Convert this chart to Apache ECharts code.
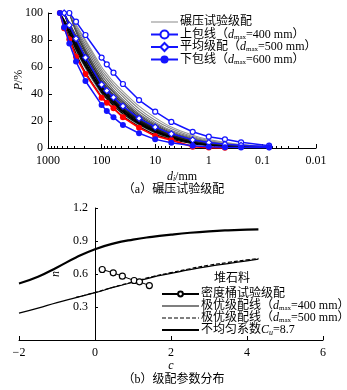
<!DOCTYPE html>
<html>
<head>
<meta charset="utf-8">
<script src="https://cdn.jsdelivr.net/npm/echarts@6/dist/echarts.min.js"></script>
<style>
  html, body { margin: 0; padding: 0; background: #fff; }
  #chart { width: 347px; height: 390px; }
</style>
</head>
<body>
<div id="chart"></div>
<script>
// ---------- (a) rolled-compaction gradings ----------
// sieve sizes (mm) shared by every grading curve
const sieveSizes = [600, 500, 400, 300, 200, 100, 80, 60, 40, 20, 10, 5, 2, 1, 0.5, 0.25, 0.075];

// percent passing of each rolled test (null above the test's dmax)
const rolledTests = [
  [100, 92, 84, 72, 59, 40, 36, 31, 25, 17, 11, 7, 3.5, 2, 1.2, 0.7, 0.2],
  [100, 93, 85, 74, 61, 42, 37.5, 32.5, 26.5, 18, 12, 7.8, 4, 2.4, 1.5, 0.9, 0.3],
  [100, 94, 86.5, 76, 63, 44, 39.5, 34.5, 28, 19.5, 13, 8.5, 4.5, 2.8, 1.8, 1.1, 0.4],
  [null, 100, 90, 79, 66, 46, 41.5, 36, 29.5, 20.5, 14, 9.2, 5, 3.1, 2, 1.2, 0.5],
  [null, 100, 91, 80.5, 68, 48, 43, 37.5, 31, 21.5, 14.8, 9.8, 5.4, 3.4, 2.2, 1.3, 0.5],
  [100, 95, 88, 78, 65, 45, 40.5, 35, 28.5, 19.8, 13.5, 9, 5, 3, 1.9, 1.1, 0.4],
  [null, 100, 92, 82, 70, 50, 45, 39.5, 33, 23, 16, 10.6, 6, 3.8, 2.5, 1.5, 0.6],
  [null, 100, 93, 83.5, 72, 52, 47, 41.5, 34.5, 24.5, 17, 11.5, 6.6, 4.2, 2.8, 1.7, 0.7],
  [null, null, 100, 88, 75, 54, 49, 43, 36, 25.5, 18, 12.3, 7.2, 4.6, 3, 1.9, 0.8],
  [null, null, 100, 89, 77, 56, 51, 45, 38, 27, 19, 13, 7.8, 5, 3.3, 2.1, 0.9],
  [null, null, 100, 90.5, 79, 58, 53, 47, 40, 29, 20.5, 14.2, 8.5, 5.5, 3.7, 2.3, 1],
  [100, 91, 82, 70, 56, 38, 34, 29.5, 23.5, 16, 10, 6.5, 3.2, 1.8, 1, 0.6, 0.2],
  [100, 92.5, 84.5, 73, 60, 41, 36.5, 31.5, 25.5, 17.5, 11.5, 7.5, 3.8, 2.2, 1.4, 0.8, 0.3],
  [null, 100, 89, 77, 63.5, 43, 38.5, 33.5, 27, 18.5, 12.5, 8.2, 4.3, 2.6, 1.6, 1, 0.3],
  [null, 100, 90.5, 79, 65.5, 45.5, 40.5, 35.5, 29, 20, 13.5, 8.8, 4.8, 2.9, 1.8, 1.1, 0.4],
  [null, null, 100, 86, 71, 49, 44, 38.5, 31.5, 22, 15, 10, 5.6, 3.5, 2.3, 1.4, 0.5],
  [null, null, 100, 87, 73, 51.5, 46.5, 41, 34, 24, 16.5, 11, 6.3, 4, 2.6, 1.6, 0.6],
  [null, null, 100, 91.5, 80, 60, 55, 49, 42, 31, 22.5, 15.5, 9.5, 6.2, 4.2, 2.6, 1.2],
  [100, 93, 86, 75, 62, 43, 38.5, 33.5, 27, 18.5, 12.5, 8.2, 4.2, 2.5, 1.6, 1, 0.3],
  [null, 100, 91, 80, 67, 47, 42, 37, 30.5, 21, 14.5, 9.5, 5.2, 3.2, 2.1, 1.3, 0.5]
];
const rolledColors = ['#8a8a8a', '#000', '#000', '#111', '#222', '#000', '#333', '#444', '#666', '#777', '#888',
  '#000', '#000', '#000', '#111', '#333', '#555', '#999', '#000', '#222'];

const upperEnvelope  = [null, null, 100, 93.6, 83.7, 67, 62, 55.8, 47.4, 35.5, 26.9, 19.3, 12, 8.4, 6.4, 4.2, 1.7];
const averageGrading = [null, 100, 91, 81, 67, 47, 42.5, 37.5, 31, 22, 15.5, 10.5, 6, 4, 2.8, 2, 1];
const lowerEnvelope  = [100, 89.4, 77.5, 64, 49.6, 31.9, 27.4, 22.7, 17, 10.9, 6.4, 3.9, 1.7, 1, 0.5, 0.4, 0.3];
const markedTest     = [100, 88.7, 80.5, 67.6, 54.8, 37.3, 33.6, 29.4, 22.7, 15, 8.9, 5.9, 1, 0.3, 0.2, null, null];

// ---------- (b) gradation parameters n vs c ----------
const cuLineC = [-2, -1.5, -1, -0.5, 0, 0.5, 1, 1.5, 2, 2.5, 3, 3.5, 4, 4.3];
const cuLineN = [0.514, 0.575, 0.66, 0.75, 0.825, 0.878, 0.913, 0.938, 0.958, 0.975, 0.988, 0.997, 1.003, 1.006];
const opt400C = [-2, -1.5, -1, -0.5, 0, 0.5, 1, 1.5, 2, 2.5, 3, 3.5, 4, 4.3];
const opt400N = [0.244, 0.29, 0.34, 0.385, 0.43, 0.48, 0.525, 0.57, 0.605, 0.64, 0.67, 0.695, 0.72, 0.735];
const opt500C = [-0.5, 0, 0.5, 1, 1.5, 2, 2.5, 3, 3.5, 4, 4.3];
const opt500N = [0.387, 0.432, 0.482, 0.528, 0.575, 0.612, 0.648, 0.68, 0.705, 0.728, 0.742];
const bucketC = [0.19, 0.48, 0.72, 1.03, 1.17, 1.43];
const bucketN = [0.641, 0.611, 0.58, 0.541, 0.529, 0.495];

const FONT = '"Liberation Serif", "Noto Sans CJK SC", serif';
const BLUE = '#1414ff';

const toPairs = vals => sieveSizes.map((d, i) => vals[i] == null ? null : [d, vals[i]]).filter(Boolean);
const zip = (xs, ys) => xs.map((x, i) => [x, ys[i]]);

// legend icon: horizontal stroke (optionally dashed) inside a w x h box
function strokeIcon(w, h, t, dash) {
  const y0 = h / 2 - t / 2, y1 = h / 2 + t / 2;
  let p = 'path://M0,0L0.01,0L0,0.01Z';
  if (dash) {
    for (let x = 0; x < w; x += dash[0] + dash[1]) {
      const x1 = Math.min(w, x + dash[0]);
      p += `M${x},${y0}L${x1},${y0}L${x1},${y1}L${x},${y1}Z`;
    }
  } else {
    p += `M0,${y0}L${w},${y0}L${w},${y1}L0,${y1}Z`;
  }
  p += `M${w},${h}L${w - 0.01},${h}L${w},${h - 0.01}Z`;
  return p;
}

const richText = {
  i: { fontStyle: 'italic', fontSize: 12, fontFamily: FONT, color: '#000' },
  sub: { fontSize: 7, fontFamily: FONT, color: '#000', verticalAlign: 'bottom', padding: [4, 0, 0, 0] },
  isub: { fontSize: 8, fontStyle: 'italic', fontFamily: FONT, color: '#000', padding: [5, 0, 0, 0] },
  n: { fontSize: 12, fontFamily: FONT, color: '#000' }
};

const legendA = {
  '碾压试验级配': '碾压试验级配',
  '上包线': '上包线（{i|d}{sub|max}=400 mm）',
  '平均级配': '平均级配（{i|d}{sub|max}=500 mm）',
  '下包线': '下包线（{i|d}{sub|max}=600 mm）'
};
const legendB = {
  '密度桶试验级配': '密度桶试验级配',
  '极优400': '极优级配线（{i|d}{sub|max}=400 mm）',
  '极优500': '极优级配线（{i|d}{sub|max}=500 mm）',
  'Cu': '不均匀系数{i|C}{isub|u}=8.7'
};

const series = [];
rolledTests.forEach((vals, k) => {
  series.push({
    name: '碾压试验级配', type: 'line', xAxisIndex: 0, yAxisIndex: 0,
    data: toPairs(vals), symbol: 'none', showSymbol: false, smooth: 0.35,
    lineStyle: { color: rolledColors[k], width: 1.1 }, itemStyle: { color: rolledColors[k] },
    z: 2
  });
});
series.push({
  name: 'marked', type: 'line', xAxisIndex: 0, yAxisIndex: 0, data: toPairs(markedTest),
  symbol: 'circle', symbolSize: 6, lineStyle: { color: '#ff0000', width: 1.8 },
  itemStyle: { color: '#ff0000' }, z: 4
});
series.push({
  name: '上包线', type: 'line', xAxisIndex: 0, yAxisIndex: 0, data: toPairs(upperEnvelope),
  symbol: 'circle', symbolSize: 5, showAllSymbol: true,
  lineStyle: { color: BLUE, width: 1.5 },
  itemStyle: { color: '#fff', borderColor: BLUE, borderWidth: 1.2 }, z: 5
});
series.push({
  name: '平均级配', type: 'line', xAxisIndex: 0, yAxisIndex: 0, data: toPairs(averageGrading),
  symbol: 'diamond', symbolSize: 6, showAllSymbol: true,
  lineStyle: { color: BLUE, width: 1.5 },
  itemStyle: { color: '#fff', borderColor: BLUE, borderWidth: 1.2 }, z: 5
});
series.push({
  name: '下包线', type: 'line', xAxisIndex: 0, yAxisIndex: 0, data: toPairs(lowerEnvelope),
  symbol: 'circle', symbolSize: 6, showAllSymbol: true,
  lineStyle: { color: BLUE, width: 1.5 },
  itemStyle: { color: BLUE }, z: 5
});

// (b) series
series.push({
  name: 'Cu', type: 'line', xAxisIndex: 1, yAxisIndex: 1, data: zip(cuLineC, cuLineN),
  symbol: 'none', showSymbol: false, smooth: true, lineStyle: { color: '#000', width: 2.2 }, itemStyle: { color: '#000' }
});
series.push({
  name: '极优400', type: 'line', xAxisIndex: 1, yAxisIndex: 1, data: zip(opt400C, opt400N),
  symbol: 'none', showSymbol: false, smooth: true, lineStyle: { color: '#000', width: 1.2 }, itemStyle: { color: '#000' }
});
series.push({
  name: '极优500', type: 'line', xAxisIndex: 1, yAxisIndex: 1, data: zip(opt500C, opt500N),
  symbol: 'none', showSymbol: false, smooth: true, lineStyle: { color: '#000', width: 1.2, type: [4, 2] }, itemStyle: { color: '#000' }
});
series.push({
  name: '密度桶试验级配', type: 'line', xAxisIndex: 1, yAxisIndex: 1, data: zip(bucketC, bucketN),
  symbol: 'circle', symbolSize: 6, lineStyle: { color: '#000', width: 1 },
  itemStyle: { color: '#fff', borderColor: '#000', borderWidth: 1.2 }, z: 5
});

const axisText = { fontFamily: FONT, fontSize: 12, color: '#000' };

const option = {
  animation: false,
  backgroundColor: '#fff',
  grid: [
    { left: 48, right: 31, top: 13, height: 135, outerBoundsMode: 'none', containLabel: false },
    { left: 19, right: 24, top: 208, height: 132, outerBoundsMode: 'none', containLabel: false },
    // y axis of (b) sits at c = 0
    { left: 95, right: 24, top: 208, height: 132, outerBoundsMode: 'none', containLabel: false }
  ],
  xAxis: [
    {
      gridIndex: 0, type: 'log', logBase: 10, min: 0.01, max: 1000, inverse: true,
      axisLine: { lineStyle: { color: '#000', width: 1 } },
      axisTick: { inside: true, length: 4, lineStyle: { color: '#000' } },
      minorTick: { show: true, splitNumber: 8, length: 2, lineStyle: { color: '#000' } },
      splitLine: { show: false },
      axisLabel: Object.assign({ margin: 7, formatter: v => String(Number(Number(v).toPrecision(6))) }, axisText),
      name: '{i|d}{isub|i}/mm', nameLocation: 'middle', nameGap: 22,
      nameTextStyle: Object.assign({ rich: richText }, axisText)
    },
    {
      gridIndex: 1, type: 'value', min: -2, max: 6, interval: 2,
      axisLine: { onZero: false, lineStyle: { color: '#000', width: 1 } },
      axisTick: { inside: true, length: 4, lineStyle: { color: '#000' } },
      splitLine: { show: false },
      axisLabel: Object.assign({ margin: 7, formatter: v => String(v).replace('-', '−') }, axisText),
      name: '{i|c}', nameLocation: 'middle', nameGap: 19,
      nameTextStyle: Object.assign({ rich: richText }, axisText)
    },
    { gridIndex: 2, type: 'value', min: 0, max: 6, show: false }
  ],
  yAxis: [
    {
      gridIndex: 0, type: 'value', min: 0, max: 100, interval: 20,
      axisLine: { show: true, lineStyle: { color: '#000', width: 1 } },
      axisTick: { show: true, inside: true, length: 4, lineStyle: { color: '#000' } },
      splitLine: { show: false },
      axisLabel: Object.assign({ margin: 5 }, axisText)
    },
    { gridIndex: 1, type: 'value', min: 0, max: 1.2, interval: 0.3, show: false },
    {
      gridIndex: 2, type: 'value', min: 0, max: 1.2, interval: 0.3,
      axisLine: { show: true, lineStyle: { color: '#000', width: 1 } },
      axisTick: { show: true, inside: true, length: 3, lineStyle: { color: '#000' } },
      splitLine: { show: false },
      axisLabel: Object.assign({ margin: 7, formatter: v => v === 0 ? '' : v.toFixed(1) }, axisText),
      name: '{i|n}', nameLocation: 'middle', nameGap: 24, nameRotate: 90,
      nameTextStyle: Object.assign({ rich: richText }, axisText)
    }
  ],
  legend: [
    {
      data: [
        { name: '碾压试验级配', icon: strokeIcon(27, 10, 1.2) },
        '上包线', '平均级配', '下包线'
      ],
      orient: 'vertical', left: 145, top: 11, itemWidth: 27, itemHeight: 10, itemGap: 0.5,
      selectedMode: false,
      formatter: name => legendA[name],
      textStyle: Object.assign({ rich: richText, padding: [0, 0, 0, -3] }, axisText)
    },
    {
      data: [
        '密度桶试验级配',
        { name: '极优400', icon: strokeIcon(37, 6, 1.2) },
        { name: '极优500', icon: strokeIcon(37, 6, 1.2, [4, 2]) },
        { name: 'Cu', icon: strokeIcon(37, 6, 2.2) }
      ],
      orient: 'vertical', left: 156, top: 283, itemWidth: 37, itemHeight: 6, itemGap: 0,
      selectedMode: false,
      formatter: name => legendB[name],
      textStyle: Object.assign({ rich: richText, padding: [0, 0, 0, -3] }, axisText)
    }
  ],
  graphic: [
    // y-axis title of (a)
    { type: 'text', x: 19, y: 80, rotation: Math.PI / 2,
      style: { text: '{i|P}{n|/%}', rich: richText, font: '12px ' + FONT, fill: '#000', align: 'center', verticalAlign: 'middle' } },
    { type: 'text', left: 'center', top: 184, style: { text: '（a）碾压试验级配', font: '12px ' + FONT, fill: '#000' } },
    { type: 'text', left: 'center', top: 374, style: { text: '（b）级配参数分布', font: '12px ' + FONT, fill: '#000' } },
    { type: 'text', x: 232, y: 279, style: { text: '堆石料', font: '12px ' + FONT, fill: '#000', align: 'center', verticalAlign: 'middle' } }
  ],
  series: series
};

const chart = echarts.init(document.getElementById('chart'), null, { renderer: 'canvas' });
chart.setOption(option);
</script>
</body>
</html>
